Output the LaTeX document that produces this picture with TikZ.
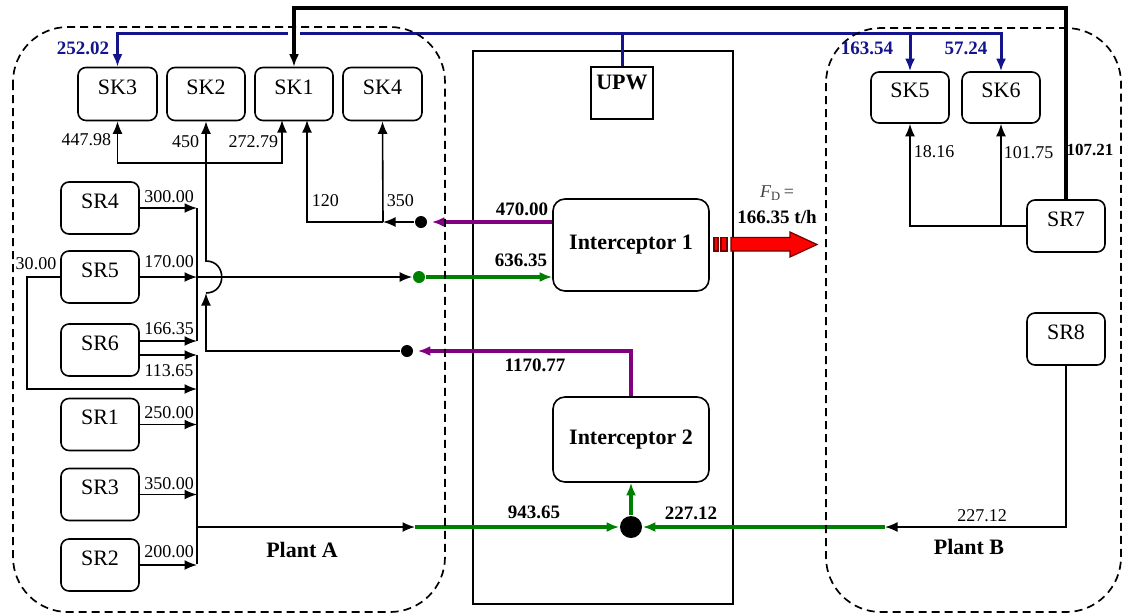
\documentclass[tikz,border=0pt]{standalone}
\usepackage{fontspec}
\setmainfont{Liberation Serif}
\usetikzlibrary{arrows.meta,calc}
\definecolor{busblue}{RGB}{20,20,140}
\definecolor{flowpurple}{RGB}{128,0,128}
\definecolor{flowgreen}{RGB}{0,128,0}
\newcommand\myboxfont{\fontsize{22}{26}\selectfont}
\newcommand\mynumfont{\fontsize{18}{22}\selectfont}
\newcommand\mybnumfont{\fontsize{19}{23}\selectfont\bfseries}
\begin{document}
\begin{tikzpicture}[x=1pt,y=-1pt,
  tip/.style={-{Latex[length=12.5pt 0,width=10pt 0]}},
  thinline/.style={line width=1.6pt},
  box/.style={draw, rounded corners=8pt, line width=1.6pt, minimum width=78pt, minimum height=52pt, inner sep=0pt, text height=10pt, text depth=10pt, font=\myboxfont},
  ibox/.style={draw, rounded corners=12pt, line width=1.6pt, minimum width=156pt, inner sep=0pt, font=\myboxfont\bfseries},
  dot/.style={circle, fill=black, inner sep=0pt, minimum size=12pt},
  num/.style={font=\mynumfont, inner sep=0pt},
  bnum/.style={font=\mybnumfont, inner sep=0pt},
  bluebus/.style={draw=busblue, line width=3pt},
  pflow/.style={draw=flowpurple, line width=3.2pt},
  gflow/.style={draw=flowgreen, line width=3.2pt},
  plant/.style={draw, line width=1.7pt, dash pattern=on 8pt off 5pt, rounded corners=55pt},
  thinline]
\useasboundingbox (0,0) rectangle (1123,614);

% central area
\node[draw, line width=1.6pt, minimum width=260pt, minimum height=553pt, inner sep=0pt] (hub) at (603,327.5) {};

% sinks plant A
\node[box, minimum width=79pt, minimum height=53pt] (SK3) at (117.5,94) {SK3};
\node[box, minimum height=53pt] (SK2) at (206,94) {SK2};
\node[box, minimum height=53pt] (SK1) at (294,94) {SK1};
\node[box, minimum width=79pt, minimum height=53pt] (SK4) at (382.5,94) {SK4};
% sources plant A
\node[box] (SR4) at (100,208) {SR4};
\node[box] (SR5) at (100,277) {SR5};
\node[box] (SR6) at (100,350) {SR6};
\node[box] (SR1) at (100,424.5) {SR1};
\node[box] (SR3) at (100,494.5) {SR3};
\node[box] (SR2) at (100,565) {SR2};
% plant B
\node[box, minimum height=51pt] (SK5) at (910,97.5) {SK5};
\node[box, minimum height=51pt] (SK6) at (1001,97.5) {SK6};
\node[box] (SR7) at (1066,226) {SR7};
\node[box] (SR8) at (1066,339) {SR8};
% interceptors and UPW
\node[ibox, minimum height=92pt] (I1) at (631,245) {Interceptor 1};
\node[ibox, minimum height=85pt] (I2) at (631,439.5) {Interceptor 2};
\node[draw, line width=1.6pt, minimum width=62pt, minimum height=52pt, inner sep=0pt, text height=8pt, text depth=15.4pt, font=\myboxfont\bfseries] (UPW) at (622,93) {UPW};

% dots
\node[dot] (d1) at (421,222) {};
\node[dot, fill=flowgreen] (d3) at (419,277) {};
\node[dot] (d2) at (407,351) {};
\node[dot, minimum size=22pt] (bd) at (631,527) {};

% coordinates
\coordinate (j1) at (383,222);
\coordinate (j2) at (206,163);
\coordinate (sk1a) at (282,120);
\coordinate (sk1b) at (307,120);
\coordinate (hopB) at (206,293);
\coordinate (hopT) at (206,261);
\coordinate (colx) at (197,0);
\coordinate (cA4) at (197,208);
\coordinate (cA5) at (197,277);
\coordinate (cA6) at (197,341);
\coordinate (cB6) at (197,355);
\coordinate (c30) at (197,389);
\coordinate (l30) at (27,389);
\coordinate (cOut) at (197,527);
\coordinate (cB2) at (197,564);
\coordinate (g1) at (415,527);
\coordinate (g2) at (885,527);
\coordinate (bus) at (622,33);
\coordinate (topL) at (294,8);
\coordinate (j7) at (1001,226);

% blue UPW distribution
\draw[bluebus, tip] (UPW.north) -- (bus) -| (SK3.north);
\draw[bluebus, tip] (bus) -| (SK5.north);
\draw[bluebus, tip] (bus) -| (SK6.north);

% black thick SR7 -> SK1
\draw[white, line width=12pt, shorten >=16pt, shorten <=4pt] (topL) -- (SK1.north);
\draw[line width=3.5pt, tip] (SR7.north) |- (topL) -- (SK1.north);

% SK distribution from 1170.77
\draw[tip] (j2) -| (SK3.south);
\draw[tip] (j2) -| (sk1a);
\draw[tip] (d2) -| (hopB);
\draw[tip] (hopB) .. controls +(21,0) and +(21,0) .. (hopT) -- (SK2.south);
\draw[pflow, tip, shorten >=4pt] (I2.north) |- (d2);

% 470 distribution
\draw[pflow, tip, shorten >=4pt] (I1.west |- d1) -- (d1);
\draw[tip] (d1) -- (j1);
\draw[tip] (j1) -- (SK4.south);
\draw[tip] (j1) -| (sk1b);

% sources to interceptor 1
\draw[tip] (SR4.east) -- (cA4);
\draw[tip] (SR5.east) -- (cA5);
\draw[tip] (SR6.east |- cA6) -- (cA6);
\draw (cA4) -- (cA6);
\draw[tip] (cA5) -- (d3);
\draw[gflow, tip] (d3) -- (I1.west |- d3);

% sources to interceptor 2
\draw[tip] (SR6.east |- cB6) -- (cB6);
\draw[tip] (SR5.west) -| (l30) -- (c30);
\draw[tip] (SR1.east) -- (SR1.east -| colx);
\draw[tip] (SR3.east) -- (SR3.east -| colx);
\draw[tip] (SR2.east) -- (SR2.east -| colx);
\draw (cB6) -- (cB2);
\draw[tip] (cOut) -- (g1);
\draw[gflow, tip] (g1) -- (bd);
\draw[tip] (SR8.south) |- (g2);
\draw[gflow, tip] (g2) -- (bd);
\draw[gflow, tip] (bd) -- (I2.south);

% plant B SR7 distribution
\draw[tip] (SR7.west) -| (SK5.south);
\draw[tip] (j7) -- (SK6.south);

% discharge arrow
\filldraw[fill=red, draw=black!55!red, line width=1.2pt] (714,237.5) rectangle (718,251) (721,237.5) rectangle (727,251);
\filldraw[fill=red, draw=black!55!red, line width=1.2pt] (731,237.5) -- (790,237.5) -- (790,232) -- (817,244.5) -- (790,257) -- (790,251) -- (731,251) -- cycle;

% plant boundaries
\draw[plant] (13,27) rectangle (445,612);
\draw[plant] (826,28) rectangle (1121,612);

% labels
\node[num, anchor=east] (t1) at (112,140) {447.98};
\node[num, anchor=east] (t2) at (200,142) {450};
\node[num, anchor=east] (t3) at (279,142) {272.79};
\node[num, anchor=west] (t4) at (311,201) {120};
\node[num, anchor=west] (t5) at (386,201) {350};
\node[num] (t6) at (169,197) {300.00};
\node[num] (t7) at (169,262) {170.00};
\node[num] (t8) at (169,329) {166.35};
\node[num] (t9) at (169,371) {113.65};
\node[num] (t10) at (169,413) {250.00};
\node[num] (t11) at (169,484) {350.00};
\node[num] (t12) at (169,552) {200.00};
\node[num] (t13) at (36,264) {30.00};
\node[num, anchor=west] (t14) at (913,152) {18.16};
\node[num, anchor=west] (t15) at (1003,153) {101.75};
\node[num] (t16) at (982,516) {227.12};
\node[bnum] (b1) at (522,209) {470.00};
\node[bnum] (b2) at (521,260) {636.35};
\node[bnum] (b3) at (535,365) {1170.77};
\node[bnum] (b4) at (534,512) {943.65};
\node[bnum] (b5) at (691,513) {227.12};
\node[bnum, font=\fontsize{17}{20}\selectfont\bfseries] (b6) at (1090,150) {107.21};
\node[bnum, text=busblue] (c1) at (83,48) {252.02};
\node[bnum, text=busblue] (c2) at (867,48) {163.54};
\node[bnum, text=busblue] (c3) at (966,48) {57.24};
\node[num, text=black!75] (fd) at (777,193) {\textit{F}\textsubscript{D}\,=};
\node[bnum] (fdv) at (777,217) {166.35 t/h};
\node[font=\myboxfont\bfseries, inner sep=0pt] (pA) at (302,550) {Plant A};
\node[font=\myboxfont\bfseries, inner sep=0pt] (pB) at (969,547) {Plant B};
\end{tikzpicture}
\end{document}
